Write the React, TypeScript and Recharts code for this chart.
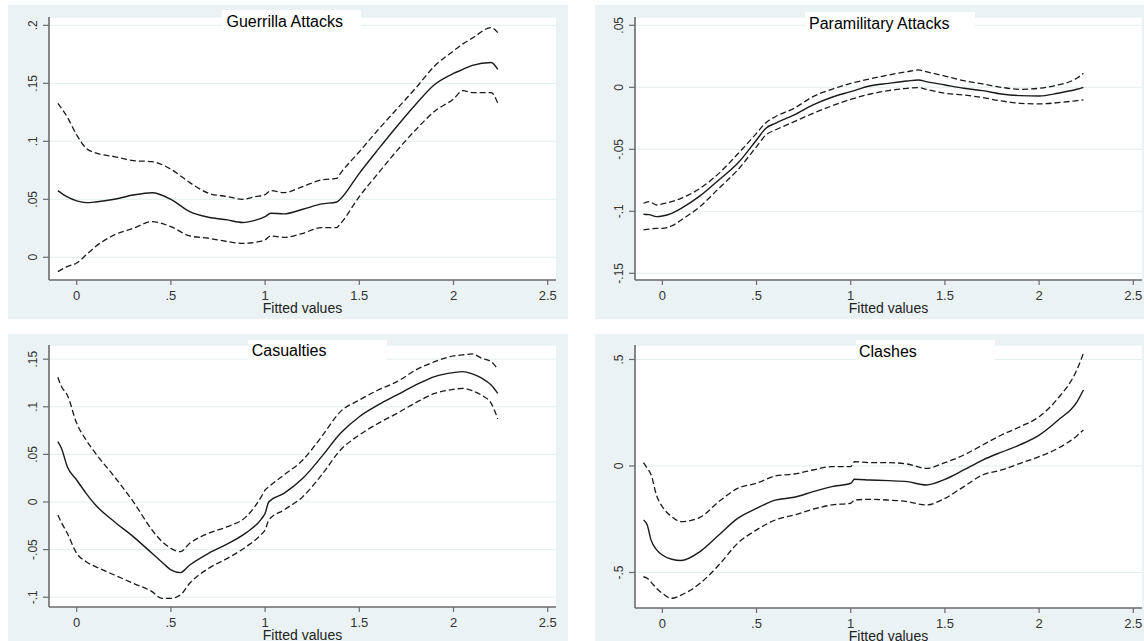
import React from 'react';
import { LineChart, Line, XAxis, YAxis, CartesianGrid } from 'recharts';

// ---------- shared axis ticks ----------
const xTicks = [0, 0.5, 1, 1.5, 2, 2.5];
const xTickLabels = ['0', '.5', '1', '1.5', '2', '2.5'];

// ---------- Guerrilla Attacks ----------
const gX = [-0.1, -0.05, 0, 0.05, 0.1, 0.2, 0.3, 0.4, 0.5, 0.6, 0.7, 0.8, 0.88, 0.95, 1.0, 1.03, 1.1, 1.2, 1.3, 1.38, 1.4, 1.5, 1.6, 1.7, 1.8, 1.9, 2.0, 2.05, 2.1, 2.2, 2.235];
const gMid = [0.0575, 0.052, 0.0486, 0.0471, 0.0477, 0.05, 0.0537, 0.0557, 0.05, 0.0394, 0.0345, 0.0322, 0.03, 0.032, 0.035, 0.038, 0.0374, 0.0414, 0.046, 0.0477, 0.0503, 0.0724, 0.093, 0.113, 0.132, 0.149, 0.1585, 0.162, 0.1655, 0.168, 0.162];
const gUp = [0.1328, 0.121, 0.1055, 0.094, 0.09, 0.0868, 0.0833, 0.0825, 0.0759, 0.0644, 0.0552, 0.0523, 0.05, 0.0523, 0.054, 0.0575, 0.0557, 0.061, 0.0667, 0.068, 0.0724, 0.091, 0.11, 0.128, 0.146, 0.165, 0.178, 0.184, 0.189, 0.198, 0.1937];
const gLo = [-0.0124, -0.008, -0.005, 0.002, 0.0092, 0.0193, 0.025, 0.0307, 0.0264, 0.0184, 0.0164, 0.0135, 0.012, 0.013, 0.015, 0.0184, 0.0172, 0.0207, 0.0256, 0.0256, 0.029, 0.0523, 0.0724, 0.092, 0.11, 0.126, 0.1365, 0.1437, 0.142, 0.142, 0.1328];
const gYTicks = [0, 0.05, 0.1, 0.15, 0.2];
const gYLabels = ['0', '.05', '.1', '.15', '.2'];

// ---------- Paramilitary Attacks ----------
const pX = [-0.1, -0.07, -0.03, 0, 0.05, 0.1, 0.2, 0.3, 0.4, 0.5, 0.55, 0.6, 0.7, 0.8, 0.9, 1.0, 1.1, 1.2, 1.3, 1.36, 1.4, 1.5, 1.6, 1.7, 1.8, 1.9, 2.0, 2.1, 2.2, 2.235];
const pMid = [-0.1024, -0.1027, -0.1043, -0.1038, -0.1016, -0.0976, -0.0876, -0.0747, -0.0613, -0.0425, -0.033, -0.029, -0.0223, -0.0142, -0.008, -0.0035, 0.0011, 0.0032, 0.0051, 0.0059, 0.0046, 0.0019, -0.0008, -0.0027, -0.0054, -0.0067, -0.007, -0.0048, -0.0016, 0];
const pUp = [-0.0935, -0.0922, -0.0949, -0.094, -0.0922, -0.0895, -0.0815, -0.0694, -0.0538, -0.0371, -0.0285, -0.0237, -0.0169, -0.0075, -0.0016, 0.0032, 0.0067, 0.0099, 0.0126, 0.014, 0.0126, 0.0091, 0.0054, 0.0027, 0, -0.0016, -0.0008, 0.0019, 0.0073, 0.0113];
const pLo = [-0.115, -0.1143, -0.1137, -0.1137, -0.1118, -0.107, -0.0962, -0.0815, -0.0667, -0.0478, -0.0384, -0.0344, -0.0277, -0.021, -0.015, -0.0097, -0.0056, -0.0027, -0.0008, -0.0003, -0.0016, -0.0048, -0.0062, -0.0083, -0.011, -0.0129, -0.0134, -0.0124, -0.0108, -0.0102];
const pYTicks = [-0.15, -0.1, -0.05, 0, 0.05];
const pYLabels = ['-.15', '-.1', '-.05', '0', '.05'];

// ---------- Casualties ----------
const cX = [-0.1, -0.08, -0.05, 0, 0.05, 0.1, 0.2, 0.3, 0.4, 0.45, 0.5, 0.55, 0.6, 0.7, 0.8, 0.9, 0.98, 1.0, 1.02, 1.1, 1.2, 1.3, 1.4, 1.5, 1.6, 1.7, 1.8, 1.9, 2.0, 2.05, 2.1, 2.15, 2.2, 2.235];
const cMid = [0.0634, 0.056, 0.037, 0.0231, 0.0091, -0.0032, -0.0207, -0.0364, -0.0539, -0.0627, -0.0714, -0.0742, -0.0662, -0.0539, -0.0441, -0.0322, -0.018, -0.0119, 0.0003, 0.0091, 0.0249, 0.0476, 0.0721, 0.0896, 0.1019, 0.1124, 0.1229, 0.1317, 0.1359, 0.1369, 0.1345, 0.13, 0.1229, 0.1141];
const cUp = [0.131, 0.121, 0.1124, 0.0826, 0.0651, 0.0511, 0.0266, 0.0004, -0.0294, -0.041, -0.0487, -0.0522, -0.0434, -0.0329, -0.0259, -0.0154, 0.0056, 0.0126, 0.016, 0.0284, 0.0441, 0.0686, 0.0949, 0.1071, 0.1176, 0.1264, 0.1387, 0.1474, 0.1534, 0.1545, 0.1555, 0.1509, 0.1474, 0.1394];
const cLo = [-0.0137, -0.022, -0.0329, -0.0539, -0.0627, -0.0679, -0.0767, -0.0854, -0.0942, -0.1012, -0.1012, -0.0977, -0.0854, -0.0697, -0.0592, -0.0469, -0.034, -0.0294, -0.0189, -0.0084, 0.0056, 0.0284, 0.0546, 0.0704, 0.0826, 0.0931, 0.1043, 0.1141, 0.1183, 0.1194, 0.1169, 0.112, 0.1036, 0.0872];
const cYTicks = [-0.1, -0.05, 0, 0.05, 0.1, 0.15];
const cYLabels = ['-.1', '-.05', '0', '.05', '.1', '.15'];

// ---------- Clashes ----------
const kX = [-0.1, -0.08, -0.06, -0.03, 0, 0.05, 0.1, 0.2, 0.3, 0.4, 0.5, 0.6, 0.7, 0.8, 0.9, 1.0, 1.02, 1.1, 1.2, 1.3, 1.4, 1.5, 1.6, 1.7, 1.8, 1.9, 2.0, 2.1, 2.2, 2.235];
const kMid = [-0.2535, -0.277, -0.347, -0.394, -0.418, -0.438, -0.444, -0.402, -0.324, -0.246, -0.199, -0.16, -0.147, -0.1205, -0.097, -0.081, -0.0626, -0.0657, -0.0689, -0.0736, -0.089, -0.0626, -0.0188, 0.028, 0.065, 0.1, 0.145, 0.215, 0.3, 0.357];
const kUp = [0.0156, -0.011, -0.04, -0.14, -0.191, -0.238, -0.261, -0.241, -0.167, -0.105, -0.081, -0.047, -0.0376, -0.0188, -0.003, -0.003, 0.02, 0.0156, 0.0156, 0.0094, -0.011, 0.0156, 0.0516, 0.0986, 0.1455, 0.1847, 0.2316, 0.3177, 0.4507, 0.529];
const kLo = [-0.52, -0.527, -0.545, -0.575, -0.598, -0.621, -0.606, -0.551, -0.465, -0.363, -0.3, -0.2535, -0.23, -0.203, -0.183, -0.175, -0.16, -0.1565, -0.16, -0.167, -0.183, -0.152, -0.097, -0.042, -0.0188, 0.0125, 0.0438, 0.083, 0.141, 0.169];
const kYTicks = [-0.5, 0, 0.5];
const kYLabels = ['-.5', '0', '.5'];

const BG = '#eaf2f3';
const GRID = '#e4eef0';
const AXIS = '#6b6b6b';
const INK = '#1a1a1a';

const build = (xs: number[], mid: number[], up: number[], lo: number[]) =>
  xs.map((x, i) => ({ x, mid: mid[i], up: up[i], lo: lo[i] }));

const lookup = (ticks: number[], labels: string[], v: number) => {
  const i = ticks.findIndex((t) => Math.abs(t - v) < 1e-9);
  return i >= 0 ? labels[i] : String(v);
};

const YTick = (props: any) => {
  const { x, y, payload, ticks, labels } = props;
  return (
    <text
      x={x}
      y={y}
      transform={`rotate(-90 ${x} ${y})`}
      textAnchor="middle"
      fontSize={12}
      fill="#333"
    >
      {lookup(ticks, labels, payload.value)}
    </text>
  );
};

type PanelProps = {
  left: number;
  top: number;
  width: number;
  height: number;
  marginTop: number;
  marginRight: number;
  yAxisWidth: number;
  data: any[];
  xDomain: [number, number];
  yDomain: [number, number];
  yTicks: number[];
  yLabels: string[];
  title: string;
  titleBox: { left: number; top: number; width: number; padTop: number; padLeft: number };
};

const Panel = (p: PanelProps) => (
  <>
    <div
      style={{
        position: 'absolute',
        left: p.left,
        top: p.top,
        width: p.width,
        height: p.height,
        background: BG,
      }}
    >
      <LineChart
        width={p.width}
        height={p.height}
        data={p.data}
        margin={{ top: p.marginTop, right: p.marginRight, left: 0, bottom: 0 }}
        style={{ background: 'transparent' }}
      >
        <rect />
        <CartesianGrid vertical={false} stroke={GRID} strokeWidth={1} fill="#ffffff" />
        <XAxis
          dataKey="x"
          type="number"
          domain={p.xDomain}
          ticks={xTicks}
          interval={0}
          allowDataOverflow
          height={39}
          tickSize={5}
          tickMargin={6}
          axisLine={{ stroke: AXIS, strokeWidth: 1.6 }}
          tickLine={{ stroke: AXIS, strokeWidth: 1.2 }}
          tick={{ fontSize: 13, fill: '#333' }}
          tickFormatter={(v: number) => lookup(xTicks, xTickLabels, v)}
          label={{ value: 'Fitted values', position: 'insideBottom', offset: 6, fontSize: 14, fill: '#222' }}
        />
        <YAxis
          type="number"
          domain={p.yDomain}
          ticks={p.yTicks}
          interval={0}
          allowDataOverflow
          width={p.yAxisWidth}
          tickSize={6}
          tickMargin={6}
          axisLine={{ stroke: AXIS, strokeWidth: 1.6 }}
          tickLine={{ stroke: AXIS, strokeWidth: 1.2 }}
          tick={(tp: any) => <YTick {...tp} ticks={p.yTicks} labels={p.yLabels} />}
        />
        <Line type="monotone" dataKey="up" stroke={INK} strokeWidth={1.3} strokeDasharray="6 3" dot={false} isAnimationActive={false} />
        <Line type="monotone" dataKey="mid" stroke={INK} strokeWidth={1.4} dot={false} isAnimationActive={false} />
        <Line type="monotone" dataKey="lo" stroke={INK} strokeWidth={1.3} strokeDasharray="6 3" dot={false} isAnimationActive={false} />
      </LineChart>
    </div>
    <div
      style={{
        position: 'absolute',
        left: p.titleBox.left,
        top: p.titleBox.top,
        width: p.titleBox.width,
        height: 22,
        background: '#ffffff',
        boxSizing: 'border-box',
        paddingTop: p.titleBox.padTop,
        paddingLeft: p.titleBox.padLeft,
        fontSize: 16,
        lineHeight: '18px',
        color: '#000',
        whiteSpace: 'nowrap',
      }}
    >
      {p.title}
    </div>
  </>
);

export default function App() {
  return (
    <div
      style={{
        position: 'absolute',
        left: 0,
        top: 0,
        width: 1144,
        height: 641,
        overflow: 'hidden',
        background: '#ffffff',
        fontFamily: '"Liberation Sans", Arial, sans-serif',
      }}
    >
      <Panel
        left={8}
        top={5}
        width={560}
        height={314}
        marginTop={12}
        marginRight={12}
        yAxisWidth={41}
        data={build(gX, gMid, gUp, gLo)}
        xDomain={[-0.147, 2.544]}
        yDomain={[-0.0196, 0.2072]}
        yTicks={gYTicks}
        yLabels={gYLabels}
        title="Guerrilla Attacks"
        titleBox={{ left: 222, top: 10, width: 139, padTop: 2.5, padLeft: 4.5 }}
      />
      <Panel
        left={595}
        top={5}
        width={549}
        height={314}
        marginTop={12}
        marginRight={2}
        yAxisWidth={40}
        data={build(pX, pMid, pUp, pLo)}
        xDomain={[-0.145, 2.546]}
        yDomain={[-0.1554, 0.0567]}
        yTicks={pYTicks}
        yLabels={pYLabels}
        title="Paramilitary Attacks"
        titleBox={{ left: 805, top: 12, width: 170, padTop: 2.8, padLeft: 4 }}
      />
      <Panel
        left={8}
        top={334}
        width={560}
        height={312}
        marginTop={11}
        marginRight={12}
        yAxisWidth={41}
        data={build(cX, cMid, cUp, cLo)}
        xDomain={[-0.147, 2.544]}
        yDomain={[-0.1103, 0.1649]}
        yTicks={cYTicks}
        yLabels={cYLabels}
        title="Casualties"
        titleBox={{ left: 248, top: 340, width: 139, padTop: 2.2, padLeft: 3.7 }}
      />
      <Panel
        left={595}
        top={334}
        width={549}
        height={313}
        marginTop={11}
        marginRight={2}
        yAxisWidth={40}
        data={build(kX, kMid, kUp, kLo)}
        xDomain={[-0.145, 2.546]}
        yDomain={[-0.6667, 0.568]}
        yTicks={kYTicks}
        yLabels={kYLabels}
        title="Clashes"
        titleBox={{ left: 856, top: 340, width: 139, padTop: 2.5, padLeft: 3 }}
      />
    </div>
  );
}
